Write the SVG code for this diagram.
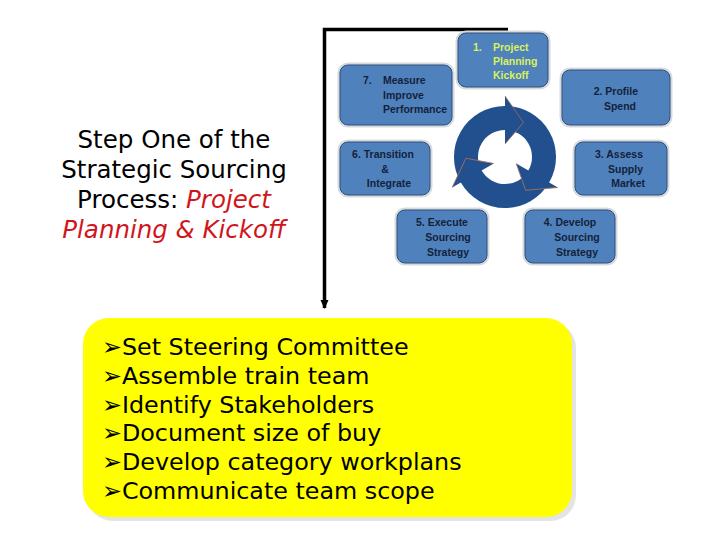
<svg xmlns="http://www.w3.org/2000/svg" xmlns:xlink="http://www.w3.org/1999/xlink" width="720" height="540" viewBox="0 0 720 540">
<style>
.box{fill:#4F81BD;stroke:#2F4F7A;stroke-width:1}
.glow{fill:none;stroke:#D6D9DE;stroke-width:5}
.bt{font-family:"Liberation Sans",Arial,sans-serif;font-weight:bold;font-size:10.5px;fill:#14213A}
.title{font-family:"DejaVu Sans",Verdana,sans-serif;font-size:24.5px;fill:#000;text-anchor:middle}
.red{fill:#D0161C;font-style:italic}
.bul{font-family:"DejaVu Sans",Verdana,sans-serif;font-size:23.8px;fill:#000}
.seam{fill:none;stroke:#A0705E;stroke-width:0.8}
</style>
<defs>
<marker id="ah" markerWidth="10" markerHeight="10" refX="8" refY="4" orient="auto" markerUnits="userSpaceOnUse">
<path d="M0,0 L9,4 L0,8 Z" fill="#000"/>
</marker>
<path id="arc" d="M460.8 182.5 A51 51 0 0 1 505 106 L505 96 L523.5 122.5 L505 144 L505 130 A27 27 0 0 0 481.6 170.5 Z" fill="#22508E"/>
<path id="seam" d="M505 96 L523.5 122.5 L505 144" class="seam"/>
</defs>
<rect width="720" height="540" fill="#fff"/>

<g id="connectors">
<path d="M508 29.5 L324.5 29.5 L324.5 308" fill="none" stroke="#000" stroke-width="3.5" marker-end="url(#ah)"/>
</g>

<g id="title">
<text class="title" x="174" y="148">Step One of the</text>
<text class="title" x="174" y="178">Strategic Sourcing</text>
<text class="title" x="174" y="208">Process: <tspan class="red">Project</tspan></text>
<text class="title red" x="174" y="238">Planning &amp; Kickoff</text>
</g>

<g id="cycle">
<use xlink:href="#arc"/>
<use xlink:href="#arc" transform="rotate(120 505 157)"/>
<use xlink:href="#arc" transform="rotate(240 505 157)"/>
<use xlink:href="#seam"/>
<use xlink:href="#seam" transform="rotate(120 505 157)"/>
<use xlink:href="#seam" transform="rotate(240 505 157)"/>
</g>

<g id="step1">
<rect class="glow" x="458" y="33" width="90" height="54" rx="8"/>
<rect class="box" x="458" y="33" width="90" height="54" rx="8"/>
<text class="bt" x="473" y="51" style="fill:#D9F25A">1.</text>
<text class="bt" x="493" y="51" style="fill:#D9F25A">Project</text>
<text class="bt" x="493" y="65" style="fill:#D9F25A">Planning</text>
<text class="bt" x="493" y="79" style="fill:#D9F25A">Kickoff</text>
</g>

<g id="step2">
<rect class="glow" x="562" y="70" width="108" height="55" rx="8"/>
<rect class="box" x="562" y="70" width="108" height="55" rx="8"/>
<text class="bt" x="638" y="95" text-anchor="end">2. Profile</text>
<text class="bt" x="636" y="110" text-anchor="end">Spend</text>
</g>

<g id="step3">
<rect class="glow" x="575" y="142" width="92" height="53" rx="8"/>
<rect class="box" x="575" y="142" width="92" height="53" rx="8"/>
<text class="bt" x="643" y="158" text-anchor="end">3. Assess</text>
<text class="bt" x="643" y="173" text-anchor="end">Supply</text>
<text class="bt" x="645" y="187" text-anchor="end">Market</text>
</g>

<g id="step4">
<rect class="glow" x="525" y="210" width="90" height="53" rx="8"/>
<rect class="box" x="525" y="210" width="90" height="53" rx="8"/>
<text class="bt" x="570" y="226" text-anchor="middle">4. Develop</text>
<text class="bt" x="577" y="241" text-anchor="middle">Sourcing</text>
<text class="bt" x="577" y="256" text-anchor="middle">Strategy</text>
</g>

<g id="step5">
<rect class="glow" x="397" y="210" width="90" height="53" rx="8"/>
<rect class="box" x="397" y="210" width="90" height="53" rx="8"/>
<text class="bt" x="442" y="226" text-anchor="middle">5. Execute</text>
<text class="bt" x="448" y="241" text-anchor="middle">Sourcing</text>
<text class="bt" x="448" y="256" text-anchor="middle">Strategy</text>
</g>

<g id="step6">
<rect class="glow" x="340" y="142" width="90" height="53" rx="8"/>
<rect class="box" x="340" y="142" width="90" height="53" rx="8"/>
<text class="bt" x="383" y="158" text-anchor="middle">6. Transition</text>
<text class="bt" x="385" y="173" text-anchor="middle">&amp;</text>
<text class="bt" x="389" y="187" text-anchor="middle">Integrate</text>
</g>

<g id="step7">
<rect class="glow" x="340" y="65" width="112" height="60" rx="8"/>
<rect class="box" x="340" y="65" width="112" height="60" rx="8"/>
<text class="bt" x="363" y="84">7.</text>
<text class="bt" x="383" y="84">Measure</text>
<text class="bt" x="383" y="99">Improve</text>
<text class="bt" x="383" y="113">Performance</text>
</g>

<g id="tasks">
<rect x="87" y="322" width="489" height="199" rx="26" fill="#E4E4E4"/>
<rect x="83" y="318" width="489" height="199" rx="26" fill="#FFFF00"/>
<text class="bul" x="102" y="355">➢Set Steering Committee</text>
<text class="bul" x="102" y="384">➢Assemble train team</text>
<text class="bul" x="102" y="412.5">➢Identify Stakeholders</text>
<text class="bul" x="102" y="441">➢Document size of buy</text>
<text class="bul" x="102" y="470">➢Develop category workplans</text>
<text class="bul" x="102" y="498.5">➢Communicate team scope</text>
</g>
</svg>
